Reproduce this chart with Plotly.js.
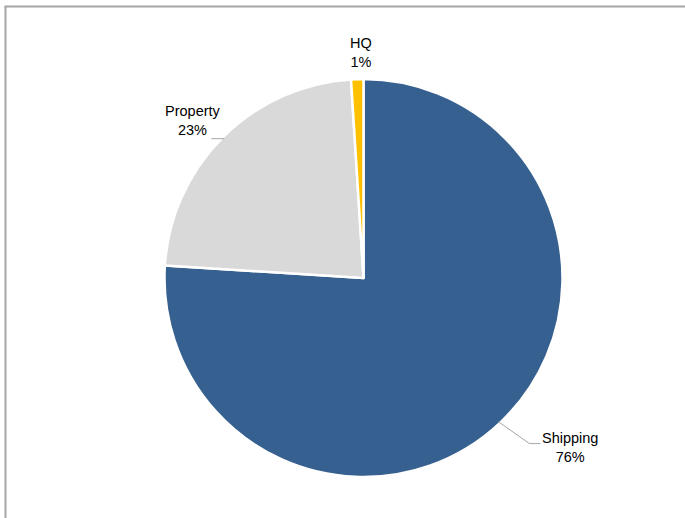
<!DOCTYPE html>
<html>
<head>
<meta charset="utf-8">
<script src="https://cdn.plot.ly/plotly-3.0.1.min.js"></script>
<style>
  html, body { margin: 0; padding: 0; background: #fff; }
  #chart { width: 685px; height: 518px; }
</style>
</head>
<body>
<div id="chart"></div>
<script>
// ---- data ----
const labels = ['Shipping', 'Property', 'HQ'];
const values = [76, 23, 1];
const percentLabels = ['76%', '23%', '1%'];

// ---- style ----
const colors = ['#36608f', '#d9d9d9', '#ffc000'];
const W = 685, H = 518;
const cxPx = 363.5, cyPx = 278, RPx = 197;
const domainPad = 2; // plotly draws the pie slightly inside its domain
// label placement relative to each slice's outer edge point (pixels)
const labelOffset = [[72, 26], [-31, -18], [4, -29]];
// leader line vertices relative to edge point (pixels); empty = none
const leaderPts = [[[0, 0], [31, 22], [42, 22]], [[0, 0], [-13, 0]], []];

const px2x = p => p / W;
const py2y = p => 1 - p / H;

const total = values.reduce((a, b) => a + b, 0);
let cum = 0;
const annotations = [];
const shapes = [];
values.forEach((v, i) => {
  const mid = (cum + v / 2) / total * 2 * Math.PI; // clockwise from 12 o'clock
  cum += v;
  const ex = cxPx + RPx * Math.sin(mid);
  const ey = cyPx - RPx * Math.cos(mid);
  annotations.push({
    xref: 'paper', yref: 'paper',
    x: px2x(ex + labelOffset[i][0]), y: py2y(ey + labelOffset[i][1]),
    xanchor: 'center', yanchor: 'middle',
    text: labels[i] + '<br>' + percentLabels[i],
    showarrow: false, align: 'center',
    font: { family: 'Liberation Sans, Arial, sans-serif', size: 14.5, color: '#000' }
  });
  const pts = leaderPts[i];
  for (let k = 0; k + 1 < pts.length; k++) {
    shapes.push({
      type: 'line', xref: 'paper', yref: 'paper',
      x0: px2x(ex + pts[k][0]), y0: py2y(ey + pts[k][1]),
      x1: px2x(ex + pts[k + 1][0]), y1: py2y(ey + pts[k + 1][1]),
      line: { color: '#a6a6a6', width: 1 }
    });
  }
});

// outer frame (left and top edges visible)
shapes.push({ type: 'line', xref: 'paper', yref: 'paper',
  x0: px2x(5.5), y0: 0, x1: px2x(5.5), y1: py2y(6.5),
  line: { color: '#a6a6a6', width: 2 } });
shapes.push({ type: 'line', xref: 'paper', yref: 'paper',
  x0: px2x(4.5), y0: py2y(6.5), x1: 1, y1: py2y(6.5),
  line: { color: '#a6a6a6', width: 2 } });

const Rd = RPx + domainPad;
const trace = {
  type: 'pie',
  labels: labels,
  values: values,
  sort: false,
  direction: 'clockwise',
  rotation: 0,
  textinfo: 'none',
  textposition: 'none',
  hoverinfo: 'none',
  marker: { colors: colors, line: { color: '#ffffff', width: 2.5 } },
  domain: {
    x: [(cxPx - Rd) / W, (cxPx + Rd) / W],
    y: [1 - (cyPx + Rd) / H, 1 - (cyPx - Rd) / H]
  }
};

const layout = {
  width: W, height: H,
  margin: { l: 0, r: 0, t: 0, b: 0 },
  paper_bgcolor: '#ffffff',
  showlegend: false,
  annotations: annotations,
  shapes: shapes
};

Plotly.newPlot('chart', [trace], layout, { displayModeBar: false, staticPlot: true });
</script>
</body>
</html>
